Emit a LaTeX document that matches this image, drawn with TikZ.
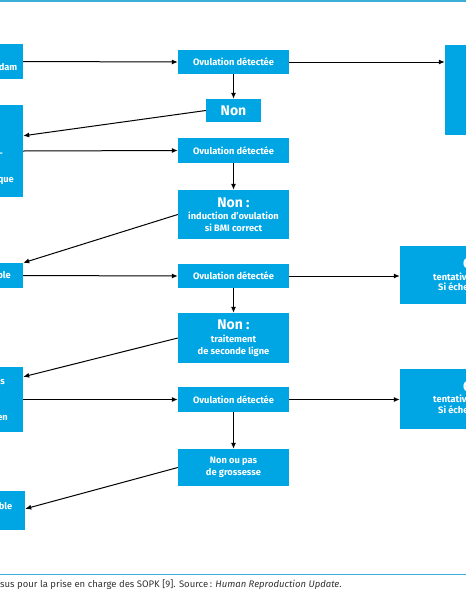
\documentclass[tikz,border=0pt]{standalone}
\usepackage{fontspec}
\setmainfont{Fira Sans}
\usetikzlibrary{arrows.meta,calc}
\definecolor{boxblue}{RGB}{0,166,228}
\definecolor{rulecol}{RGB}{60,175,215}
\definecolor{capgray}{RGB}{50,50,50}
\begin{document}
\begin{tikzpicture}[x=1pt,y=-1pt,
  box/.style={fill=boxblue, draw=none, inner sep=0pt, text=white, align=center,
              font=\bfseries\fontsize{9.3}{11.5}\selectfont},
  frag/.style={inner sep=0pt, text=white, font=\bfseries\fontsize{9.3}{11}\selectfont},
  bigfrag/.style={inner sep=0pt, text=white, font=\bfseries\fontsize{14}{15}\selectfont},
  arr/.style={-{Latex[length=6pt,width=5pt]}, line width=1pt, black},
  big/.style={font=\bfseries\fontsize{14}{15}\selectfont}]
\useasboundingbox (0,0) rectangle (466,600);
\clip (0,0) rectangle (466,600);

% rules
\draw[rulecol, line width=1.5pt] (0,1) -- (466,1);
\draw[rulecol, line width=1pt] (0,574.5) -- (466,574.5);

% middle column
\node[box, minimum width=111pt, minimum height=24pt] (m1) at (233.5,62) {Ovulation détectée};
\node[box, minimum width=55pt, minimum height=23pt, big] (n1) at (233.5,110.5) {Non};
\node[box, minimum width=111pt, minimum height=25pt] (m2) at (233.5,150.5) {Ovulation détectée};
\node[box, minimum width=111pt, minimum height=49pt] (n2) at (233.5,214.5)
  {{\fontsize{14}{15}\selectfont Non :}\\[1pt] induction d’ovulation\\ si BMI correct};
\node[box, minimum width=111pt, minimum height=24pt] (m3) at (233.5,276) {Ovulation détectée};
\node[box, minimum width=111pt, minimum height=50pt] (n3) at (233.5,338)
  {{\fontsize{14}{15}\selectfont Non :}\\[1.5pt] traitement\\[0.5pt] de seconde ligne};
\node[box, minimum width=111pt, minimum height=25pt] (m4) at (233.5,399.5) {Ovulation détectée};
\node[box, minimum width=111pt, minimum height=37pt, font=\bfseries\fontsize{9.3}{12}\selectfont] (n4) at (233.5,467.5)
  {Non ou pas\\ de grossesse};

% left boxes (clipped)
\node[box, minimum width=83pt, minimum height=35pt] (l1) at (-18.5,61.5) {};
\node[box, minimum width=83pt, minimum height=92pt] (l2) at (-18.5,151) {};
\node[box, minimum width=83pt, minimum height=25pt] (l3) at (-18.5,275.5) {};
\node[box, minimum width=83pt, minimum height=65pt] (l4) at (-18.5,399.5) {};
\node[box, minimum width=85pt, minimum height=39pt] (l5) at (-17.5,510.5) {};

\node[frag, anchor=east] (t1) at (17.5,67) {dam};
\node[frag, anchor=east] (t2a) at (3,155) {-};
\node[frag, anchor=east] (t2b) at (14,181) {que};
\node[frag, anchor=east] (t3) at (11,275) {ble};
\node[frag, anchor=east] (t4a) at (5,382) {s};
\node[frag, anchor=east] (t4b) at (8,418) {en};
\node[frag, anchor=east] (t5) at (12.5,506) {ble};

% right boxes (clipped)
\node[box, minimum width=75pt, minimum height=90pt] (r1) at (482.5,90) {};
\node[box, minimum width=120pt, minimum height=58pt] (r2) at (460,275) {};
\node[box, minimum width=120pt, minimum height=60pt] (r3) at (460,399) {};

\node[bigfrag, anchor=west] (u2a) at (463,264) {O};
\node[frag, anchor=west] (u2b) at (433,277) {tentativ};
\node[frag, anchor=west] (u2c) at (438,287) {Si éche};
\node[bigfrag, anchor=west] (u3a) at (463,387) {O};
\node[frag, anchor=west] (u3b) at (433,399) {tentativ};
\node[frag, anchor=west] (u3c) at (438,410) {Si éche};

% connectors
\draw[arr] (l1.east) -- (m1.west);
\draw[arr] (m1.east) -- (m1.east -| r1.west);
\draw[arr] (m1.south) -- (n1.north);
\draw[arr] (n1.west) -- ([yshift=-31pt]l2.north east);
\draw[arr] (l2.east) -- (m2.west);
\draw[arr] (m2.south) -- (n2.north);
\draw[arr] (n2.west) -- (l3.north east);
\draw[arr] (l3.east) -- (m3.west);
\draw[arr] (m3.east) -- (m3.east -| r2.west);
\draw[arr] (m3.south) -- (n3.north);
\draw[arr] (n3.west) -- ([yshift=-10pt]l4.north east);
\draw[arr] (l4.east) -- (m4.west);
\draw[arr] (m4.east) -- (m4.east -| r3.west);
\draw[arr] (m4.south) -- (n4.north);
\draw[arr] (n4.west) -- ([yshift=-18pt]l5.north east);

% caption
\node[anchor=base west, inner sep=0pt, text=capgray, font=\fontsize{9.5}{11}\selectfont] (cap) at (0,587)
  {sus pour la prise en charge des SOPK [9]. Source\,: \textit{Human Reproduction Update}.};
\end{tikzpicture}
\end{document}
